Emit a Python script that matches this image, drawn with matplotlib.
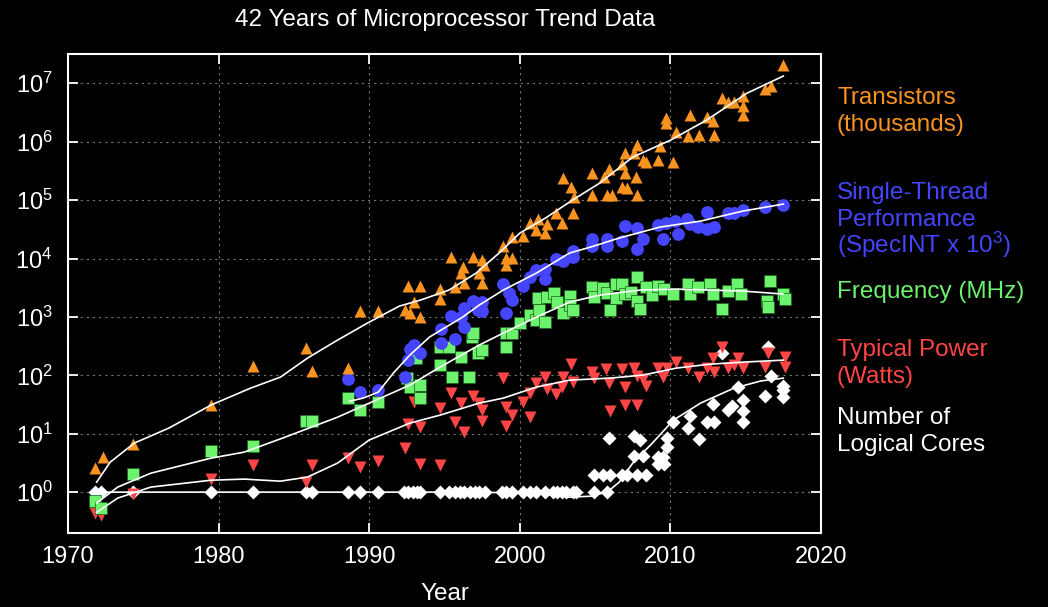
import matplotlib
matplotlib.use("Agg")
import matplotlib.pyplot as plt
from matplotlib.ticker import FixedLocator, NullLocator, LogFormatterSciNotation

plt.rcParams['font.family'] = ['Liberation Sans', 'DejaVu Sans']
plt.rcParams['mathtext.fontset'] = 'custom'
plt.rcParams['mathtext.rm'] = 'Liberation Sans'
plt.rcParams['mathtext.it'] = 'Liberation Sans:italic'

# Transistors (thousands)
tr_year = [1971.8, 1972.3, 1974.3, 1979.5, 1982.3, 1985.8, 1986.2, 1988.6, 1989.4, 1990.6,
           1992.4, 1992.6, 1992.7, 1993.0, 1993.4, 1993.4, 1994.7, 1994.7, 1995.4, 1995.7,
           1996.1, 1996.2, 1996.3, 1996.9, 1997.3, 1997.5, 1997.5, 1997.6, 1998.9, 1999.1,
           1999.1, 1999.5, 1999.5, 2000.2, 2000.7, 2001.1, 2001.2, 2001.7, 2001.8, 2002.4,
           2002.8, 2002.9, 2003.4, 2003.5, 2003.6, 2004.8, 2004.8, 2005.6, 2005.8, 2005.9,
           2006.1, 2006.8, 2006.8, 2007.0, 2007.0, 2007.1, 2007.6, 2007.7, 2007.8, 2007.8,
           2008.2, 2008.4, 2009.2, 2009.3, 2009.7, 2009.7, 2010.2, 2010.4, 2011.2, 2011.3,
           2011.9, 2012.4, 2012.8, 2012.9, 2013.4, 2013.8, 2014.2, 2014.8, 2014.8, 2014.8,
           2016.3, 2016.7, 2017.5]
tr_val = [2.6, 4.0, 6.6, 31, 144, 292, 118, 133, 1260, 1260,
          1310, 3370, 1160, 1790, 3370, 990, 2990, 2020, 10600, 3240,
          5620, 7130, 3790, 10600, 5620, 9600, 3790, 7710, 16300, 10200,
          7710, 23200, 10200, 24200, 40400, 30600, 47300, 27200, 38800, 59900,
          40400, 238000, 167000, 59900, 113000, 290000, 122000, 248000, 122000, 340000,
          122000, 413000, 167000, 638000, 290000, 160000, 638000, 248000, 875000, 122000,
          484000, 448000, 484000, 841000, 2.54e6, 2.08e6, 448000, 1.46e6, 1.25e6, 2.85e6,
          1.3e6, 2.64e6, 2.25e6, 1.3e6, 5.58e6, 4.76e6, 4.76e6, 6.04e6, 4.07e6, 2.85e6,
          7.96e6, 8.96e6, 2.05e7]

# Single-thread performance (SpecINT x 10^3)
st_year = [1988.6, 1989.4, 1990.6, 1992.4, 1992.6, 1992.7, 1993.0, 1993.4, 1994.8, 1994.8,
           1995.4, 1995.7, 1996.1, 1996.3, 1996.3, 1996.9, 1997.2, 1997.5, 1997.5, 1998.9,
           1999.1, 1999.3, 1999.5, 2000.2, 2000.7, 2001.1, 2001.7, 2001.7, 2002.4, 2002.9,
           2003.5, 2003.5, 2004.8, 2004.8, 2005.8, 2005.8, 2006.8, 2007.0, 2007.8, 2007.8,
           2008.2, 2009.2, 2009.5, 2009.7, 2010.3, 2010.5, 2011.1, 2011.3, 2011.8, 2012.4,
           2012.4, 2012.9, 2013.8, 2014.2, 2014.8, 2016.3, 2017.5]
st_val = [86, 52, 56, 93, 182, 281, 329, 240, 618, 356,
          1030, 417, 990, 1420, 669, 1860, 1310, 1790, 1260, 3650,
          1160, 2560, 1940, 3370, 4800, 6330, 6580, 4440, 9770, 9020,
          13400, 10600, 21500, 16300, 21500, 16300, 19900, 35900, 33200, 14500,
          21500, 37300, 21500, 40400, 43700, 26200, 47300, 38800, 34500, 31900,
          62300, 34500, 59900, 59900, 67400, 75900, 82100]

# Frequency (MHz)
fq_year = [1971.8, 1972.2, 1974.3, 1979.5, 1982.3, 1985.8, 1986.2, 1988.6, 1989.4, 1990.6,
           1992.5, 1992.7, 1993.1, 1993.4, 1993.4, 1994.7, 1994.7, 1995.3, 1995.5, 1996.1,
           1996.6, 1996.8, 1996.9, 1997.2, 1997.5, 1999.1, 1999.1, 1999.5, 2000.0, 2000.7,
           2001.1, 2001.7, 2001.2, 2001.3, 2001.8, 2002.3, 2002.5, 2002.9, 2003.3, 2003.3,
           2003.5, 2004.8, 2004.9, 2005.5, 2005.8, 2006.0, 2006.4, 2006.4, 2006.8, 2007.0,
           2007.4, 2007.8, 2007.8, 2008.0, 2008.4, 2008.8, 2009.2, 2009.6, 2010.2, 2011.2,
           2011.3, 2011.8, 2012.6, 2012.8, 2013.4, 2013.8, 2014.4, 2014.7, 2016.4, 2016.5,
           2016.6, 2017.5, 2017.6]
fq_val = [0.70, 0.53, 2.03, 5.0, 6.1, 16.4, 16.4, 40.7, 25.4, 34.8,
          89.5, 62.8, 197, 68, 40.7, 304, 150, 304, 93, 205,
          93, 451, 528, 240, 270, 528, 304, 528, 783, 1070,
          881, 815, 2100, 1310, 2180, 2560, 1790, 1160, 2270, 1590,
          1310, 3240, 2180, 3110, 2560, 1310, 3650, 2100, 3650, 2460,
          2660, 4800, 1860, 1360, 3240, 2360, 3370, 2990, 2460, 3650,
          2460, 3240, 3650, 2460, 1360, 2770, 3650, 2460, 1860, 1470,
          4100, 2460, 2020]

# Typical power (Watts)
pw_year = [1971.8, 1972.2, 1974.3, 1979.5, 1982.3, 1985.8, 1986.2, 1988.6, 1989.4, 1990.6,
           1992.4, 1992.6, 1993.0, 1993.4, 1993.4, 1994.7, 1994.7, 1995.4, 1995.7, 1996.1,
           1996.3, 1996.9, 1997.3, 1997.5, 1997.5, 1998.9, 1999.1, 1999.1, 1999.5, 2000.2,
           2000.7, 2000.7, 2001.1, 2001.7, 2001.8, 2002.4, 2002.8, 2002.9, 2003.4, 2003.5,
           2004.8, 2004.9, 2005.7, 2005.9, 2006.0, 2006.8, 2007.0, 2007.0, 2007.6, 2007.8,
           2007.8, 2008.2, 2008.4, 2009.2, 2009.5, 2009.8, 2010.4, 2011.2, 2011.9, 2012.4,
           2012.8, 2012.9, 2013.4, 2013.8, 2014.2, 2014.5, 2014.8, 2016.3, 2016.5, 2017.6,
           2017.6]
pw_val = [0.44, 0.40, 0.92, 1.67, 2.9, 1.48, 2.9, 3.82, 2.68, 3.4,
          5.67, 14.6, 34.8, 13.0, 3.02, 27.4, 2.9, 49.6, 15.8, 33.4,
          10.7, 44, 33.4, 25.4, 16.4, 89.5, 28.5, 13.5, 20.8, 34.8,
          49.6, 19.2, 73.5, 93, 58, 47.6, 62.8, 93, 155, 76.5,
          113, 89.5, 128, 73.5, 24.4, 128, 62.8, 30.9, 133, 97,
          30.9, 86, 65.3, 133, 93, 133, 168, 133, 93, 133,
          197, 113, 304, 133, 150, 197, 133, 138, 240, 205,
          138]

# Number of logical cores
nc_year = [1971.8, 1972.2, 1974.3, 1979.5, 1982.3, 1985.8, 1986.2, 1988.6, 1989.4, 1990.6,
           1992.3, 1992.6, 1992.9, 1993.2, 1993.4, 1994.7, 1995.3, 1995.7, 1996.0, 1996.3,
           1996.7, 1997.0, 1997.3, 1997.7, 1998.8, 1999.1, 1999.5, 2000.2, 2000.7, 2001.1,
           2001.7, 2002.2, 2002.5, 2002.8, 2003.1, 2003.5, 2003.7, 2004.9, 2005.8,
           2004.9, 2005.5, 2006.0, 2006.8, 2007.1, 2007.8, 2008.4, 2005.9, 2007.6, 2008.0,
           2007.6, 2008.2, 2009.2, 2009.5, 2009.2, 2009.6, 2009.8, 2009.8, 2010.2, 2011.2,
           2011.3, 2011.9, 2012.4, 2012.9, 2012.8, 2013.8, 2014.1, 2014.5, 2014.8, 2014.8,
           2014.8, 2013.4, 2016.3, 2016.7, 2016.5, 2017.5, 2017.5, 2017.5]
nc_val = [1, 1, 1, 1, 1, 1, 1, 1, 1, 1,
          1, 1, 1, 1, 1, 1, 1, 1, 1, 1,
          1, 1, 1, 1, 1, 1, 1, 1, 1, 1,
          1, 1, 1, 1, 1, 1, 1, 1, 1,
          2, 2, 2, 2, 2, 2, 2, 8.4, 9.1, 7.8,
          4.1, 4.1, 4.0, 4.0, 3.0, 3.0, 5.9, 8.4, 15.8, 12.5,
          20, 8.1, 15.8, 15.8, 32, 25.4, 29.7, 63, 37.6, 24.4,
          15.8, 240, 44, 97, 304, 65, 56, 42]

# Trend lines
tr_fit_year = [1971.9, 1972.8, 1974.4, 1976.7, 1979.5, 1982.1, 1984.1, 1985.9, 1987.9, 1990.0,
               1992.0, 1993.4, 1995.3, 1997.1, 1998.7, 2000.0, 2001.7, 2003.5, 2005.3, 2007.5,
               2010.0, 2012.4, 2015.1, 2017.5]
tr_fit_val = [1.48, 3.26, 6.9, 12.5, 31, 60, 93, 197, 401, 815,
              1530, 1940, 2880, 5620, 12900, 27200, 49200, 1.0e5, 1.95e5, 5.45e5,
              1.06e6, 2.34e6, 6.8e6, 1.33e7]
st_fit_year = [1988.7, 1989.6, 1990.6, 1991.6, 1992.7, 1994.0, 1995.1, 1996.2, 1997.3, 1998.9,
               2001.1, 2003.3, 2004.7, 2006.6, 2009.3, 2012.0, 2014.8, 2017.5]
st_fit_val = [36, 40.7, 51.6, 109, 222, 451, 669, 990, 1590, 2880,
              5620, 12400, 15700, 22400, 34500, 43700, 64800, 85400]
fq_fit_year = [1971.9, 1973.3, 1975.5, 1979.5, 1981.7, 1984.4, 1987.9, 1990.0, 1992.7, 1994.7,
               1997.3, 1998.9, 2001.1, 2003.3, 2005.3, 2008.0, 2010.4, 2012.6, 2014.8, 2017.5]
fq_fit_val = [0.65, 1.22, 2.11, 3.82, 4.84, 8.7, 19.2, 33.4, 68, 138,
              329, 528, 990, 1790, 2360, 2880, 2990, 2880, 2770, 2460]
pw_fit_year = [1971.9, 1973.3, 1975.5, 1979.5, 1981.7, 1984.1, 1985.9, 1987.9, 1990.0, 1992.7,
               1994.7, 1997.3, 1998.9, 2001.1, 2003.3, 2006.0, 2008.2, 2010.4, 2012.6, 2014.8,
               2017.5]
pw_fit_val = [0.45, 0.79, 1.22, 1.6, 1.67, 1.54, 1.81, 3.14, 7.8, 15.2,
              20.8, 33.4, 40.7, 62.8, 82.7, 89.5, 101, 133, 155, 168,
              182]
nc_fit_year = [1971.9, 1996.7, 2001.1, 2003.3, 2004.7, 2005.8, 2006.6, 2007.5, 2008.8, 2010.2,
               2012.0, 2014.2, 2016.0, 2017.5]
nc_fit_val = [1.0, 1.0, 0.96, 0.82, 0.85, 1.0, 1.48, 3.14, 6.9, 17.1,
              33.4, 60, 80, 89.5]

year_ticks = [1970, 1980, 1990, 2000, 2010, 2020]
decade_ticks = [1, 10, 100, 1e3, 1e4, 1e5, 1e6, 1e7]

ORANGE = '#F7931E'
BLUE = '#4545FF'
GREEN = '#6CF26C'
RED = '#FF4545'
WHITE = '#FFFFFF'

fig = plt.figure(figsize=(10.48, 6.07), dpi=100, facecolor='black')
ax = fig.add_axes([0.0649, 0.1219, 0.7185, 0.789])
ax.set_facecolor('black')

ax.plot(nc_year, nc_val, 'D', color=WHITE, ms=7.4, mec='none', zorder=3)
ax.plot(pw_year, pw_val, 'v', color=RED, ms=8.5, mec='none', zorder=4)
ax.plot(fq_year, fq_val, 's', color=GREEN, ms=8.3, mec='#1e5e1e', mew=0.5, zorder=5)
ax.plot(st_year, st_val, 'o', color=BLUE, ms=9.2, mec='none', zorder=6)
ax.plot(tr_year, tr_val, '^', color=ORANGE, ms=8.5, mec='none', zorder=7)

for fx, fy in [(tr_fit_year, tr_fit_val), (st_fit_year, st_fit_val),
               (fq_fit_year, fq_fit_val), (pw_fit_year, pw_fit_val),
               (nc_fit_year, nc_fit_val)]:
    ax.plot(fx, fy, '-', color=WHITE, lw=1.2, zorder=10)

ax.set_yscale('log')
ax.set_xlim(1970, 2020)
ax.set_ylim(10 ** -0.7, 10 ** 7.5)
ax.xaxis.set_major_locator(FixedLocator(year_ticks))
ax.yaxis.set_major_locator(FixedLocator(decade_ticks))
ax.yaxis.set_major_formatter(LogFormatterSciNotation())
ax.yaxis.set_minor_locator(NullLocator())
ax.xaxis.set_minor_locator(NullLocator())

ax.grid(True, color='#767676', lw=0.8, linestyle=(0, (2, 3.5)))
ax.set_axisbelow(True)

for sp in ax.spines.values():
    sp.set_color(WHITE)
    sp.set_linewidth(1.5)
ax.tick_params(which='major', direction='in', length=7, width=1.3, color=WHITE,
               top=True, right=True, labelcolor=WHITE, labelsize=17)
ax.tick_params(axis='y', pad=11)
ax.tick_params(axis='x', pad=9)

fig.text(0.4245, 1 - 26 / 607, '42 Years of Microprocessor Trend Data', color=WHITE,
         fontsize=17.5, ha='center', va='baseline')
fig.text(0.4245, 0.012, 'Year', color=WHITE, fontsize=17.5, ha='center', va='baseline')

# series labels on the right, one line at a time (baseline in pixels from top)
lx = 837 / 1048
label_lines = [
    ('Transistors', ORANGE, 104),
    ('(thousands)', ORANGE, 131.5),
    ('Single-Thread', BLUE, 198.5),
    ('Performance', BLUE, 225.5),
    ('(SpecINT x 10$^3$)', BLUE, 252.5),
    ('Frequency (MHz)', GREEN, 298),
    ('Typical Power', RED, 356),
    ('(Watts)', RED, 383),
    ('Number of', WHITE, 424.5),
    ('Logical Cores', WHITE, 451.5),
]
for text, col, ypix in label_lines:
    fig.text(lx, 1 - ypix / 607, text, color=col, fontsize=17.5, ha='left', va='baseline')

fig.savefig('out.png', dpi=100, facecolor='black')
